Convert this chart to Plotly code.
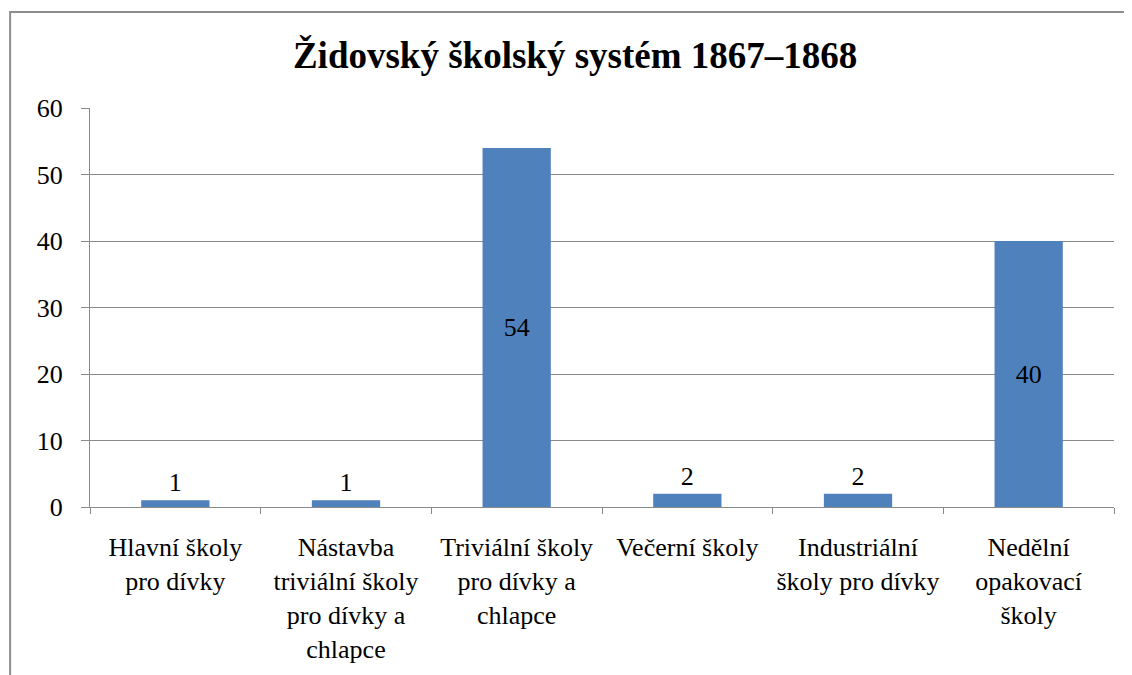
import plotly.graph_objects as go

categories = [
    "Hlavní školy<br>pro dívky",
    "Nástavba<br>triviální školy<br>pro dívky a<br>chlapce",
    "Triviální školy<br>pro dívky a<br>chlapce",
    "Večerní školy",
    "Industriální<br>školy pro dívky",
    "Nedělní<br>opakovací<br>školy",
]
values = [1, 1, 54, 2, 2, 40]
y_ticks = [0, 10, 20, 30, 40, 50, 60]

FONT = "Liberation Serif"
GRID = "#8a8a8a"
FS = 26

fig = go.Figure()
fig.add_trace(go.Bar(
    x=categories, y=values,
    marker=dict(color="#4F81BD", line=dict(width=0)),
    width=0.4,
    text=[str(v) for v in values],
    textposition="auto",
    insidetextanchor="middle",
    textangle=0,
    insidetextfont=dict(color="black", size=FS, family=FONT),
    outsidetextfont=dict(color="black", size=FS, family=FONT),
    cliponaxis=False,
))

# the page body adds an 8px offset; margins compensate for it
fig.update_layout(
    width=1132, height=675,
    paper_bgcolor="white", plot_bgcolor="white",
    margin=dict(l=82, r=26, t=100, b=176, autoexpand=False),
    title=dict(text="<b>Židovský školský systém 1867–1868</b>",
               font=dict(family=FONT, size=37, color="black"),
               x=0.501, xanchor="center", y=0.930, yanchor="middle"),
    font=dict(family=FONT, size=FS, color="black"),
    showlegend=False,
    bargap=0.6,
    shapes=[dict(type="rect", xref="paper", yref="paper",
                 x0=-0.078, x1=1.2, y0=-1.0, y1=1.2406,
                 line=dict(color="#8c8c8c", width=2), fillcolor="rgba(0,0,0,0)",
                 layer="below")],
)
fig.update_yaxes(
    range=[0, 60], tickvals=y_ticks, showgrid=True, gridcolor=GRID, gridwidth=1,
    showline=True, linecolor=GRID, linewidth=1,
    ticks="outside", ticklen=8, tickcolor=GRID, zeroline=False,
    tickfont=dict(family=FONT, size=FS, color="black"), automargin=False,
    ticklabelstandoff=13,
)
fig.update_xaxes(
    showline=True, linecolor=GRID, linewidth=1,
    ticks="outside", ticklen=6, tickcolor=GRID, tickson="boundaries",
    tickfont=dict(family=FONT, size=FS, color="black"),
    tickangle=0, automargin=False, ticklabelstandoff=17,
)

fig.write_html("out.html")
